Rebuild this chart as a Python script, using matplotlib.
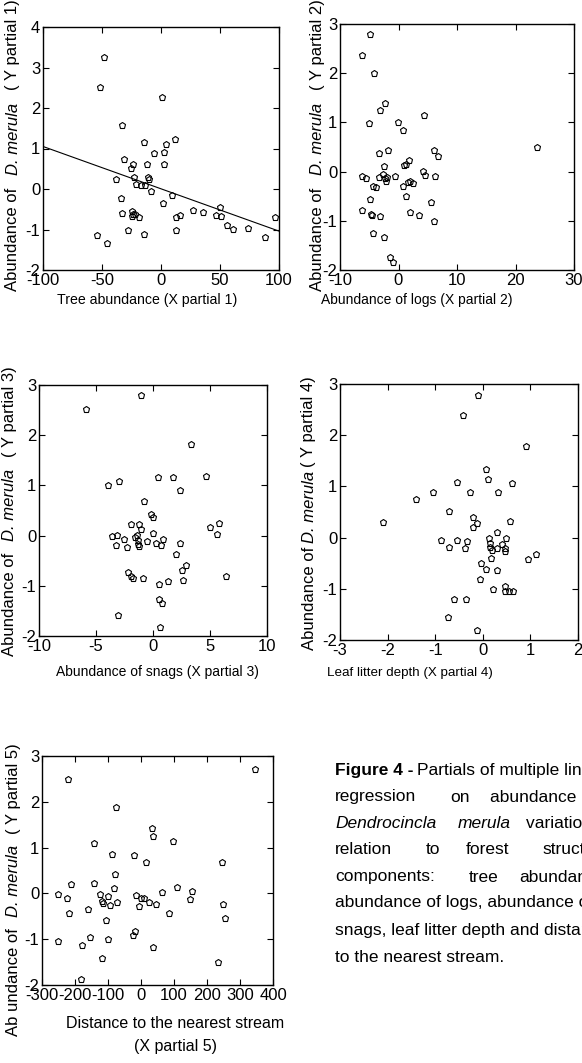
import matplotlib
matplotlib.use("Agg")
import matplotlib.pyplot as plt

plt.rcParams['font.family'] = ['Liberation Sans', 'DejaVu Sans']
plt.rcParams['axes.unicode_minus'] = False

W, H = 582, 1063

# partial 1: tree abundance
p1_x = [-48.3, -52, 1.1, -32.8, -14.4, 11.9, 4.2, -6.2, 2.8, -31.6, -23.7, -25.1, -11.6, 2.3,
        -38.4, -22.9, -11.0, -10.2, -20.9, -16.7, -13.6, -8.2, -33.9, 9.6, 1.7, -33.1, -24.6,
        -23.7, -24.3, -22.0, -18.9, 12.4, 15.8, 27.4, 35.6, 46.3, 50.3, 50.6, 56.2, 60.7, 73.7,
        87.9, 96.3, -28.2, -14.1, 12.7, -54.5, -45.5]
p1_y = [3.27, 2.51, 2.28, 1.57, 1.16, 1.23, 1.11, 0.90, 0.91, 0.75, 0.62, 0.52, 0.61, 0.61,
        0.25, 0.30, 0.30, 0.25, 0.13, 0.11, 0.11, -0.04, -0.21, -0.16, -0.34, -0.59, -0.54,
        -0.61, -0.67, -0.61, -0.70, -0.69, -0.63, -0.51, -0.57, -0.63, -0.44, -0.67, -0.90, -0.99, -0.96,
        -1.18, -0.69, -1.02, -1.12, -1.02, -1.14, -1.33]
p1_line_x = [-100, 100]
p1_line_y = [1.05, -1.04]

# partial 2: logs
p2_x = [-4.91, -6.23, -4.23, -2.29, -3.14, -5.03, -0.06, 0.80, 4.40, -3.31, -1.77, 6.11, 6.69,
        1.83, 1.26, 0.86, -2.51, -6.29, -5.54, -3.37, -2.69, -2.23, -2.11, -1.89, -0.57, 4.11,
        4.51, 6.29, -4.40, -3.89, 0.74, 2.00, 2.46, 1.54, 1.31, -4.80, 5.54, -6.23, 1.89, -4.74,
        -4.46, -3.09, 3.54, 6.11, -4.34, -2.51, -1.49, -0.97, 23.6]
p2_y = [2.80, 2.36, 2.01, 1.39, 1.25, 0.99, 1.01, 0.84, 1.15, 0.38, 0.43, 0.43, 0.31,
        0.24, 0.16, 0.13, 0.11, -0.08, -0.14, -0.10, -0.05, -0.14, -0.19, -0.10, -0.08, 0.02,
        -0.07, -0.08, -0.29, -0.32, -0.30, -0.20, -0.24, -0.22, -0.49, -0.55, -0.61, -0.79, -0.82, -0.86,
        -0.89, -0.90, -0.89, -1.01, -1.25, -1.32, -1.73, -1.83, 0.49]

# partial 3: snags
p3_x = [-5.89, -1.06, 3.31, 0.44, 1.79, 4.63, 2.38, -3.93, -2.99, -0.82, -0.18, -0.03, -1.91,
        -1.23, -1.06, 4.99, 5.78, 5.63, -3.64, -3.17, -3.28, -2.52, -2.29, -1.58, -1.44, -1.35,
        -1.29, -1.20, -0.50, -0.03, 0.23, 0.70, 0.91, 2.38, 1.99, 2.52, 2.93, 2.61, 0.50, 1.35,
        -2.23, -1.96, -1.73, -0.85, 6.42, 0.56, 0.76, -3.05, 0.65]
p3_y = [2.52, 2.80, 1.83, 1.16, 1.17, 1.19, 0.91, 1.00, 1.08, 0.68, 0.44, 0.37, 0.24,
        0.24, 0.13, 0.17, 0.26, 0.03, -0.01, 0.02, -0.19, -0.07, -0.23, -0.03, 0.01, -0.08,
        -0.17, -0.21, -0.11, 0.05, -0.15, -0.18, -0.06, -0.15, -0.36, -0.68, -0.59, -0.89, -0.96, -0.90,
        -0.72, -0.81, -0.85, -0.84, -0.81, -1.26, -1.34, -1.58, -1.83]

# partial 4: leaf litter depth
p4_x = [-0.11, -0.42, 0.90, 0.06, 0.11, -0.55, 0.62, -1.40, -1.04, -0.27, 0.32, -0.70, -0.21,
        -2.09, 0.58, -0.13, -0.21, 0.30, -0.88, -0.55, -0.33, -0.38, -0.72, 0.14, 0.16, 0.16,
        0.20, 0.30, 0.40, 0.49, 0.46, 0.46, 0.18, 0.96, 1.12, -0.04, 0.07, 0.29, -0.05, 0.21,
        0.46, 0.47, 0.56, 0.63, -0.61, -0.35, -0.74, -0.12]
p4_y = [2.78, 2.39, 1.78, 1.34, 1.14, 1.08, 1.07, 0.76, 0.90, 0.90, 0.90, 0.52, 0.41,
        0.31, 0.33, 0.28, 0.20, 0.10, -0.05, -0.05, -0.06, -0.21, -0.18, -0.01, -0.11, -0.18,
        -0.25, -0.21, -0.12, -0.01, -0.20, -0.27, -0.39, -0.41, -0.33, -0.49, -0.61, -0.63, -0.80, -1.01,
        -0.94, -1.04, -1.04, -1.04, -1.20, -1.19, -1.55, -1.80]

# partial 5: distance to stream
p5_x = [-222, 344, -77, 34.5, 36.5, 97.4, -141, -87, -20, 16.2, 246.5, -78, -212, -143, -82,
        110.6, 156, 65, -251, -224, -123, -100, -117, -116, -95, -72, -15, 1, 8.1, 24.3, 44.6,
        -7.1, 148, 248.6, 255.7, -219, -161, -107.5, 84.2, -24.3, -17.2, -156, -251, -178.6,
        -99.4, 36.5, -117.7, 234, -181.6]
p5_y = [2.50, 2.72, 1.88, 1.43, 1.25, 1.14, 1.09, 0.87, 0.83, 0.69, 0.69, 0.42, 0.20, 0.23, 0.12,
        0.13, 0.06, 0.02, -0.01, -0.09, -0.02, -0.05, -0.16, -0.22, -0.25, -0.18, -0.04, -0.09, -0.09, -0.19, -0.24,
        -0.27, -0.12, -0.24, -0.54, -0.43, -0.34, -0.57, -0.43, -0.91, -0.83, -0.96, -1.05, -1.12,
        -1.00, -1.17, -1.42, -1.49, -1.87]

fig = plt.figure(figsize=(W / 100, H / 100), dpi=100)
renderer = fig.canvas.get_renderer()


def box(l, t, r, b):
    return [l / W, 1 - b / H, (r - l) / W, (b - t) / H]


def ftext(x, y, s, **kw):
    return fig.text(x / W, 1 - y / H, s, **kw)


def panel(rect, xs, ys, xlim, ylim, xticks, yticks):
    ax = fig.add_axes(rect)
    ax.plot(xs, ys, 'p', ms=5, mfc='none', mec='black', mew=0.8)
    ax.set_xlim(xlim)
    ax.set_ylim(ylim)
    ax.set_xticks(xticks)
    ax.set_yticks(yticks)
    ax.tick_params(direction='in', length=4, width=0.8, top=True, right=True,
                   labelsize=12, pad=2)
    for s in ax.spines.values():
        s.set_linewidth(1.0)
    return ax


# rotated y label built from pieces, going up from y0 (pixels from top)
def ylab(x, y0, n, gap, first='Abundance of', size=12):
    pieces = [(first, 'normal'), ('D. merula', 'italic'), ('( Y partial %d)' % n, 'normal')]
    y = y0
    for s, st in pieces:
        t = ftext(x, y, s, rotation=90, ha='center', va='bottom', fontsize=size, style=st)
        y -= t.get_window_extent(renderer).height + gap


ax1 = panel(box(43, 27, 279, 270), p1_x, p1_y, (-100, 100), (-2, 4),
            [-100, -50, 0, 50, 100], range(-2, 5))
ax1.plot(p1_line_x, p1_line_y, color='black', lw=0.8)
ylab(13, 291, 1, 13)
ftext(147, 300, 'Tree abundance (X partial 1)', ha='center', va='center', fontsize=10.2)

ax2 = panel(box(340, 24, 574, 270), p2_x, p2_y, (-10, 30), (-2, 3),
            [-10, 0, 10, 20, 30], range(-2, 4))
ylab(318, 291, 2, 13)
ftext(417, 300, 'Abundance of logs (X partial 2)', ha='center', va='center', fontsize=10)

ax3 = panel(box(39, 385, 267, 636), p3_x, p3_y, (-10, 10), (-2, 3),
            [-10, -5, 0, 5, 10], range(-2, 4))
ylab(10, 656, 3, 12)
ftext(157, 672, 'Abundance of snags (X partial 3)', ha='center', va='center', fontsize=10)

ax4 = panel(box(340, 384, 578, 640), p4_x, p4_y, (-3, 2), (-2, 3),
            range(-3, 3), range(-2, 4))
ylab(309, 650, 4, 4)
ftext(410, 673, 'Leaf litter depth (X partial 4)', ha='center', va='center', fontsize=9.6)

ax5 = panel(box(42, 756, 273, 985), p5_x, p5_y, (-300, 400), (-2, 3),
            range(-300, 401, 100), range(-2, 4))
ylab(14, 1036, 5, 11, first='Ab undance of')
ftext(175, 1023, 'Distance to the nearest stream', ha='center', va='center', fontsize=11.5)
ftext(175, 1047, '(X partial 5)', ha='center', va='center', fontsize=11.5)

# caption; the widely spaced (justified) lines are placed word by word
cap = 12.5
cx = 335
ftext(cx, 770, 'Figure 4 -', ha='left', va='center', fontsize=cap, weight='bold')
ftext(cx + 82, 770, 'Partials of multiple linear', ha='left', va='center', fontsize=cap)
caption_words = [
    (797, [(0, 'regression'), (115, 'on'), (155, 'abundance of')]),
    (823, [(191, 'variation in')]),
    (850, [(0, 'relation'), (91, 'to'), (131, 'forest'), (207, 'structure')]),
    (877, [(0, 'components:'), (134, 'tree'), (184, 'abundance,')]),
    (903, [(0, 'abundance of logs, abundance of')]),
    (930, [(0, 'snags, leaf litter depth and distance')]),
    (957, [(0, 'to the nearest stream.')]),
]
for y, words in caption_words:
    for dx, w in words:
        ftext(cx + dx, y, w, ha='left', va='center', fontsize=cap)
ftext(cx, 823, 'Dendrocincla', ha='left', va='center', fontsize=cap, style='italic')
ftext(cx + 123, 823, 'merula', ha='left', va='center', fontsize=cap, style='italic')

fig.savefig('out.png', dpi=100)
